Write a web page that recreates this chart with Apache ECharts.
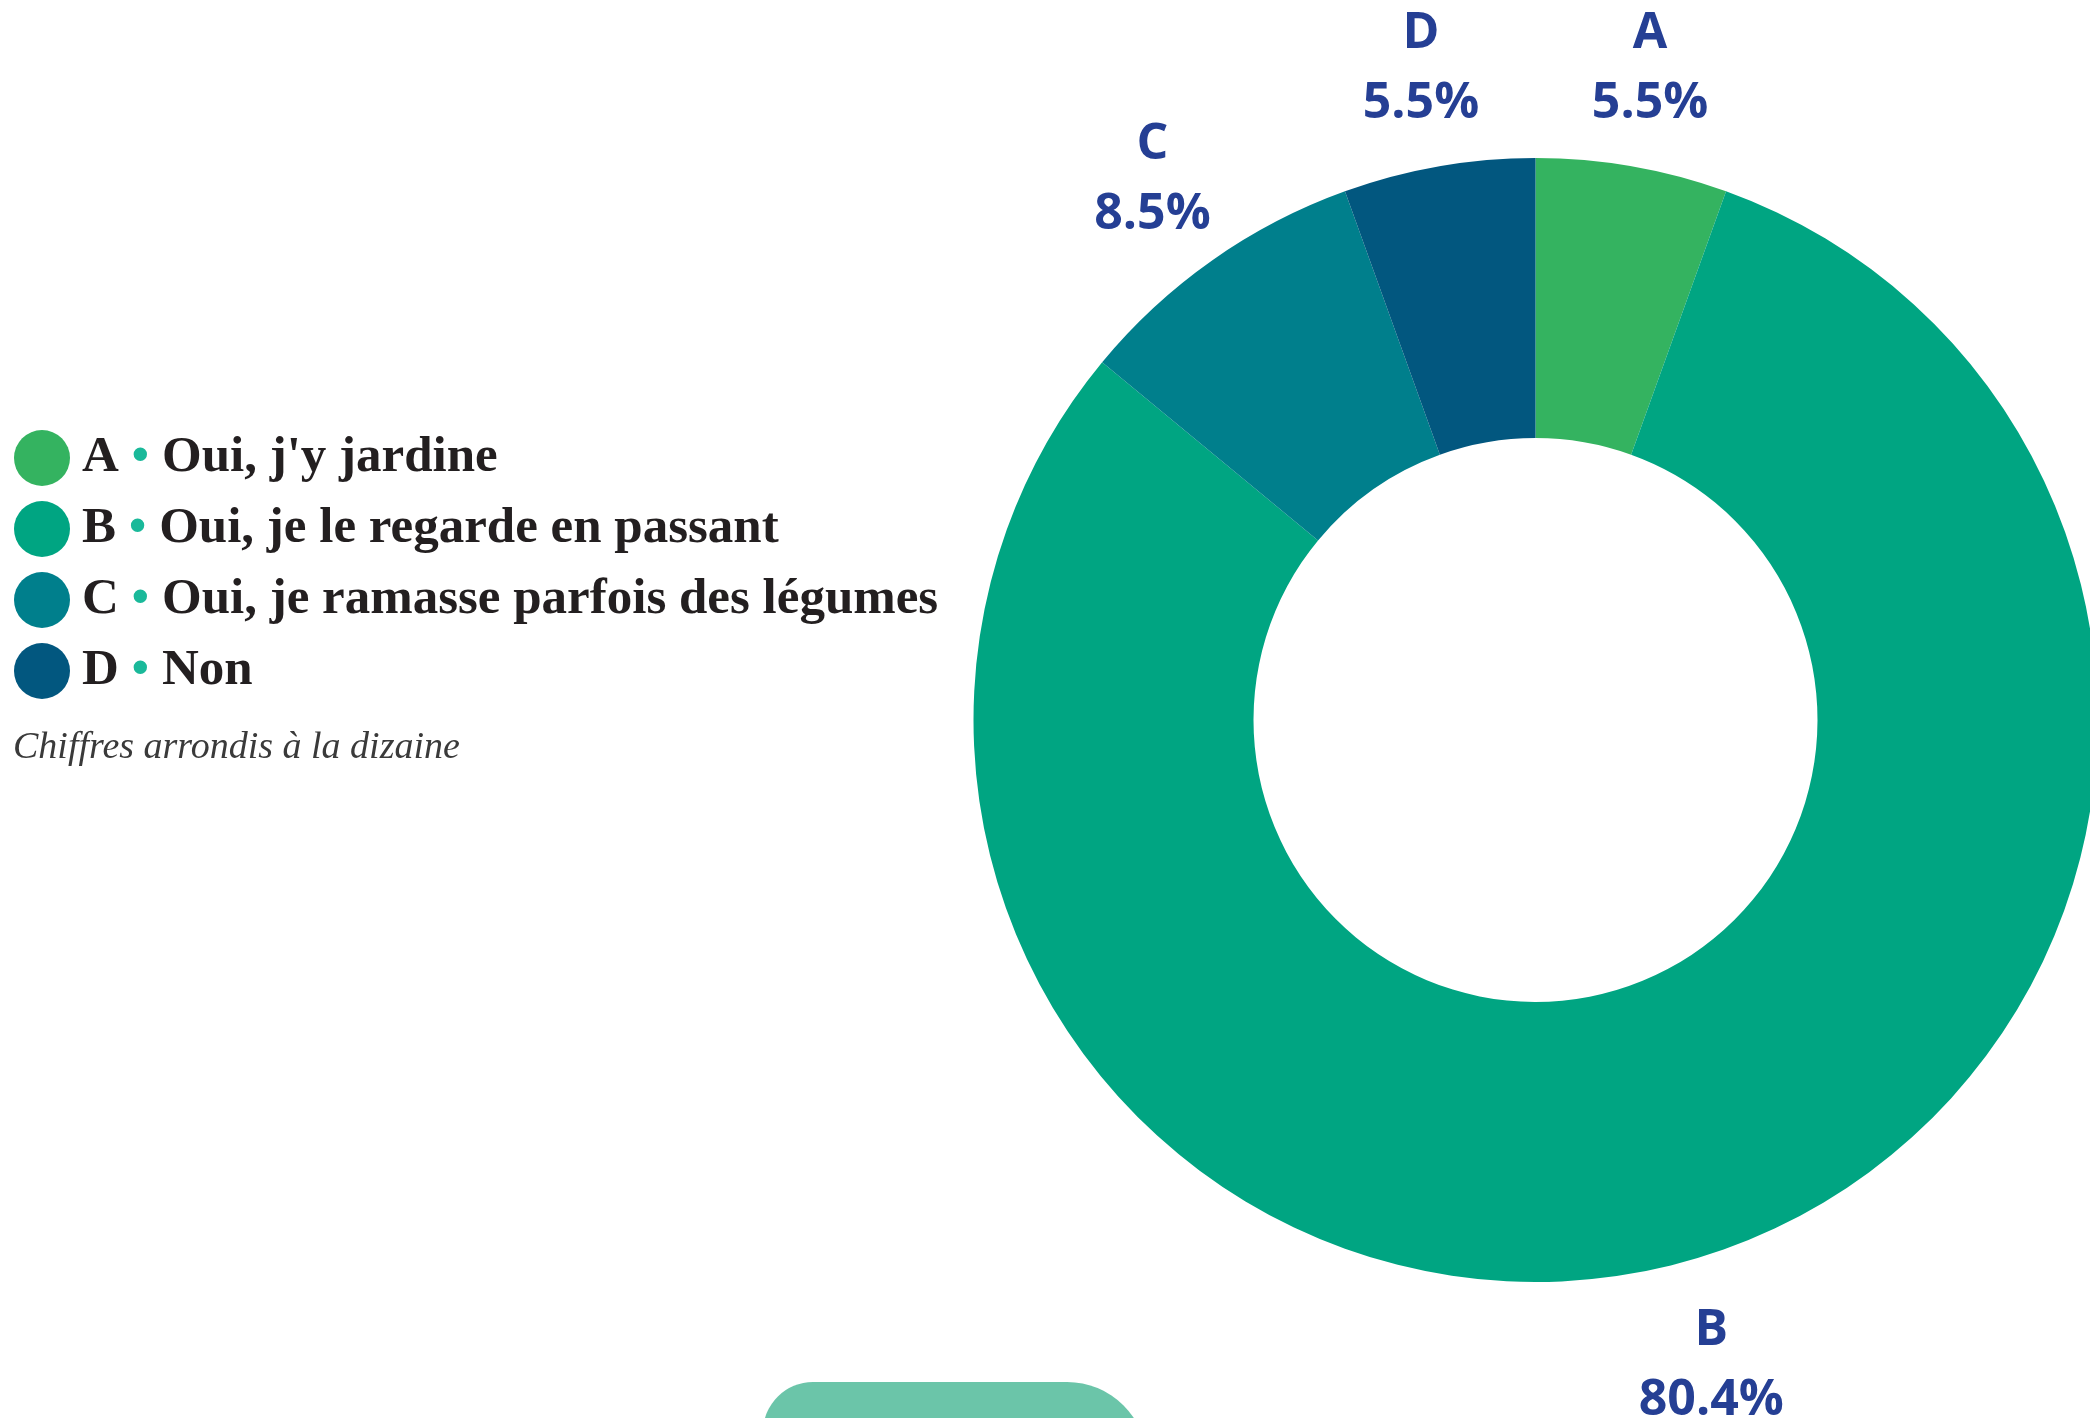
<!DOCTYPE html>
<html>
<head>
<meta charset="utf-8">
<script src="https://cdn.jsdelivr.net/npm/echarts@6/dist/echarts.min.js"></script>
<style>
html,body{margin:0;padding:0;background:#fff;}
#chart{width:2090px;height:1418px;}
</style>
</head>
<body>
<div id="chart"></div>
<script>
const categories = ['A', 'B', 'C', 'D'];
const labels = ["Oui, j'y jardine", 'Oui, je le regarde en passant', 'Oui, je ramasse parfois des légumes', 'Non'];
const values = [5.5, 80.4, 8.5, 5.5];
const colors = ['#34b360', '#00a582', '#007f8c', '#02577f'];
const note = 'Chiffres arrondis à la dizaine';

const chart = echarts.init(document.getElementById('chart'));
const data = categories.map((c, i) => ({ name: c, value: values[i], itemStyle: { color: colors[i] } }));

chart.setOption({
  animation: false,
  backgroundColor: '#ffffff',
  legend: {
    orient: 'vertical',
    left: 14,
    top: 430,
    padding: 0,
    icon: 'circle',
    itemWidth: 56,
    itemHeight: 56,
    itemGap: 15,
    selectedMode: false,
    data: categories,
    formatter: function (name) {
      const i = categories.indexOf(name);
      return '{l|' + name + '}{dot|•}{t|' + labels[i] + '}';
    },
    textStyle: {
      rich: {
        l: { fontFamily: 'Liberation Serif', fontWeight: 'bold', fontSize: 51, lineHeight: 56, color: '#231f20', padding: [0, 0, 0, 7] },
        dot: { fontFamily: 'DejaVu Sans', fontSize: 46, lineHeight: 56, color: '#1ab99a', padding: [4, 8, 0, 8] },
        t: { fontFamily: 'Liberation Serif', fontWeight: 'bold', fontSize: 51, lineHeight: 56, color: '#231f20' }
      }
    }
  },
  graphic: [
    {
      type: 'text',
      left: 13,
      top: 729,
      style: {
        text: note,
        fontFamily: 'Liberation Serif',
        fontStyle: 'italic',
        fontSize: 38,
        fill: '#3a3a3a'
      }
    },
    {
      type: 'rect',
      shape: { x: 763, y: 1382, width: 384, height: 80, r: [50, 90, 0, 0] },
      style: { fill: '#6bc5a9' }
    }
  ],
  series: [
    {
      type: 'pie',
      center: [1535.5, 720],
      radius: [282, 562],
      startAngle: 90,
      clockwise: true,
      label: { show: false },
      labelLine: { show: false },
      emphasis: { disabled: true },
      data: data
    },
    {
      type: 'pie',
      center: [1535.5, 720],
      radius: [656, 669],
      startAngle: 90,
      clockwise: true,
      silent: true,
      itemStyle: { color: 'rgba(0,0,0,0)' },
      emphasis: { disabled: true },
      labelLine: { show: false },
      label: {
        show: true,
        position: 'inside',
        offset: [0, 4],
        formatter: function (p) { return '{n|' + p.name + '}\n{v|' + p.value.toFixed(1) + '%}'; },
        rich: {
          n: { fontFamily: 'Open Sans', fontWeight: 'bold', fontSize: 50, color: '#253f94', lineHeight: 70, align: 'center' },
          v: { fontFamily: 'Open Sans', fontWeight: 'bold', fontSize: 50, color: '#253f94', lineHeight: 70, align: 'center' }
        }
      },
      data: categories.map((c, i) => ({ name: c, value: values[i] }))
    }
  ]
});
</script>
</body>
</html>
